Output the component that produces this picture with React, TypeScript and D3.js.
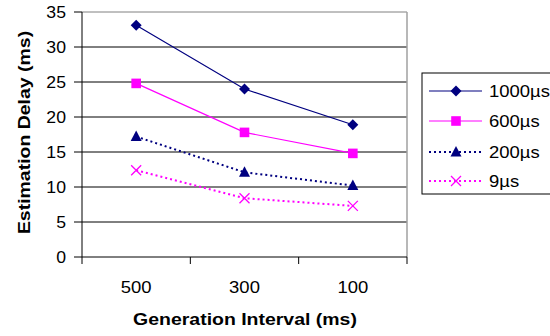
import React from "react";
import * as d3 from "d3";

const categories = ["500", "300", "100"];
const seriesNames = ["1000µs", "600µs", "200µs", "9µs"];
const s1000 = [33.1, 24.0, 18.9];
const s600 = [24.8, 17.8, 14.8];
const s200 = [17.2, 12.1, 10.2];
const s9 = [12.4, 8.4, 7.3];
const yTicks = [0, 5, 10, 15, 20, 25, 30, 35];

const NAVY = "#000080";
const MAG = "#FF00FF";

const styles = [
  { color: NAVY, dash: "", marker: "diamond", width: 1.2 },
  { color: MAG, dash: "", marker: "square", width: 1.2 },
  { color: NAVY, dash: "2,3", marker: "triangle", width: 2 },
  { color: MAG, dash: "2,3", marker: "x", width: 2 },
];

function Marker({ type, x, y, color }: { type: string; x: number; y: number; color: string }) {
  if (type === "diamond") {
    const s = 5.5;
    return <path d={`M${x},${y - s}L${x + s},${y}L${x},${y + s}L${x - s},${y}Z`} fill={color} />;
  }
  if (type === "square") {
    const s = 4.8;
    return <rect x={x - s} y={y - s} width={2 * s} height={2 * s} fill={color} />;
  }
  if (type === "triangle") {
    return <path d={`M${x},${y - 6}L${x + 5.5},${y + 4.5}L${x - 5.5},${y + 4.5}Z`} fill={color} />;
  }
  const s = 5;
  return (
    <path d={`M${x - s},${y - s}L${x + s},${y + s}M${x - s},${y + s}L${x + s},${y - s}`} stroke={color} strokeWidth={1.3} fill="none" />
  );
}

function T({ x, y, sx, anchor, children, size = 16.5, bold = false, rotate = 0, dy }: any) {
  return (
    <text
      transform={`translate(${x},${y}) rotate(${rotate}) scale(${sx},1)`}
      textAnchor={anchor}
      fontSize={size}
      fontWeight={bold ? "bold" : "normal"}
      dy={dy}
    >
      {children}
    </text>
  );
}

export default function App() {
  const left = 82, right = 407, top = 12, bottom = 257;
  const x = d3.scaleBand().domain(categories).range([left, right]);
  const y = d3.scaleLinear().domain([0, 35]).range([bottom, top]);
  const data = [s1000, s600, s200, s9];
  const line = d3
    .line<number>()
    .x((_, i) => (x(categories[i]) as number) + x.bandwidth() / 2)
    .y((d) => y(d));
  const font = "'Liberation Sans', Arial, sans-serif";
  const legendYs = [91, 121, 152, 181];
  return (
    <svg width={550} height={336} style={{ position: "absolute", left: 0, top: 0 }} fontFamily={font}>
      <rect width={550} height={336} fill="#fff" />
      {yTicks.slice(1, -1).map((t) => (
        <line key={t} x1={left} x2={right} y1={y(t)} y2={y(t)} stroke="#000" strokeWidth={1} />
      ))}
      <line x1={left} x2={right} y1={y(35)} y2={y(35)} stroke="#808080" strokeWidth={1} />
      <line x1={right} x2={right} y1={top} y2={bottom} stroke="#a0a0a0" strokeWidth={1.5} />
      <line x1={left} x2={left} y1={top} y2={bottom} stroke="#000" strokeWidth={1} />
      <line x1={left} x2={right} y1={bottom} y2={bottom} stroke="#000" strokeWidth={1} />
      {yTicks.map((t) => (
        <g key={t}>
          <line x1={left - 8} x2={left} y1={y(t)} y2={y(t)} stroke="#000" />
          <T x={66} y={y(t)} sx={1.07} anchor="end" dy="0.36em">
            {t}
          </T>
        </g>
      ))}
      {[...categories.map((c) => x(c) as number), right].map((p, i) => (
        <line key={i} x1={p} x2={p} y1={bottom} y2={bottom + 7} stroke="#000" />
      ))}
      {categories.map((c) => (
        <T key={c} x={(x(c) as number) + x.bandwidth() / 2} y={293} sx={1.12} anchor="middle">
          {c}
        </T>
      ))}
      <T x={245} y={325} sx={1.18} anchor="middle" bold>
        Generation Interval (ms)
      </T>
      <T x={30} y={132.5} sx={1.18} rotate={-90} anchor="middle" bold>
        Estimation Delay (ms)
      </T>
      {data.map((d, si) => (
        <g key={si}>
          <path d={line(d) as string} fill="none" stroke={styles[si].color} strokeWidth={styles[si].width} strokeDasharray={styles[si].dash} />
          {d.map((v, i) => (
            <Marker key={i} type={styles[si].marker} x={(x(categories[i]) as number) + x.bandwidth() / 2} y={y(v)} color={styles[si].color} />
          ))}
        </g>
      ))}
      <rect x={422} y={73} width={130} height={121} fill="#fff" stroke="#000" strokeWidth={1} />
      {seriesNames.map((n, i) => (
        <g key={n}>
          <line x1={429} x2={482} y1={legendYs[i]} y2={legendYs[i]} stroke={styles[i].color} strokeWidth={styles[i].width} strokeDasharray={styles[i].dash} />
          <Marker type={styles[i].marker} x={456} y={legendYs[i]} color={styles[i].color} />
          <T x={489} y={legendYs[i]} sx={1.12} anchor="start" dy="0.36em">
            {n}
          </T>
        </g>
      ))}
    </svg>
  );
}
